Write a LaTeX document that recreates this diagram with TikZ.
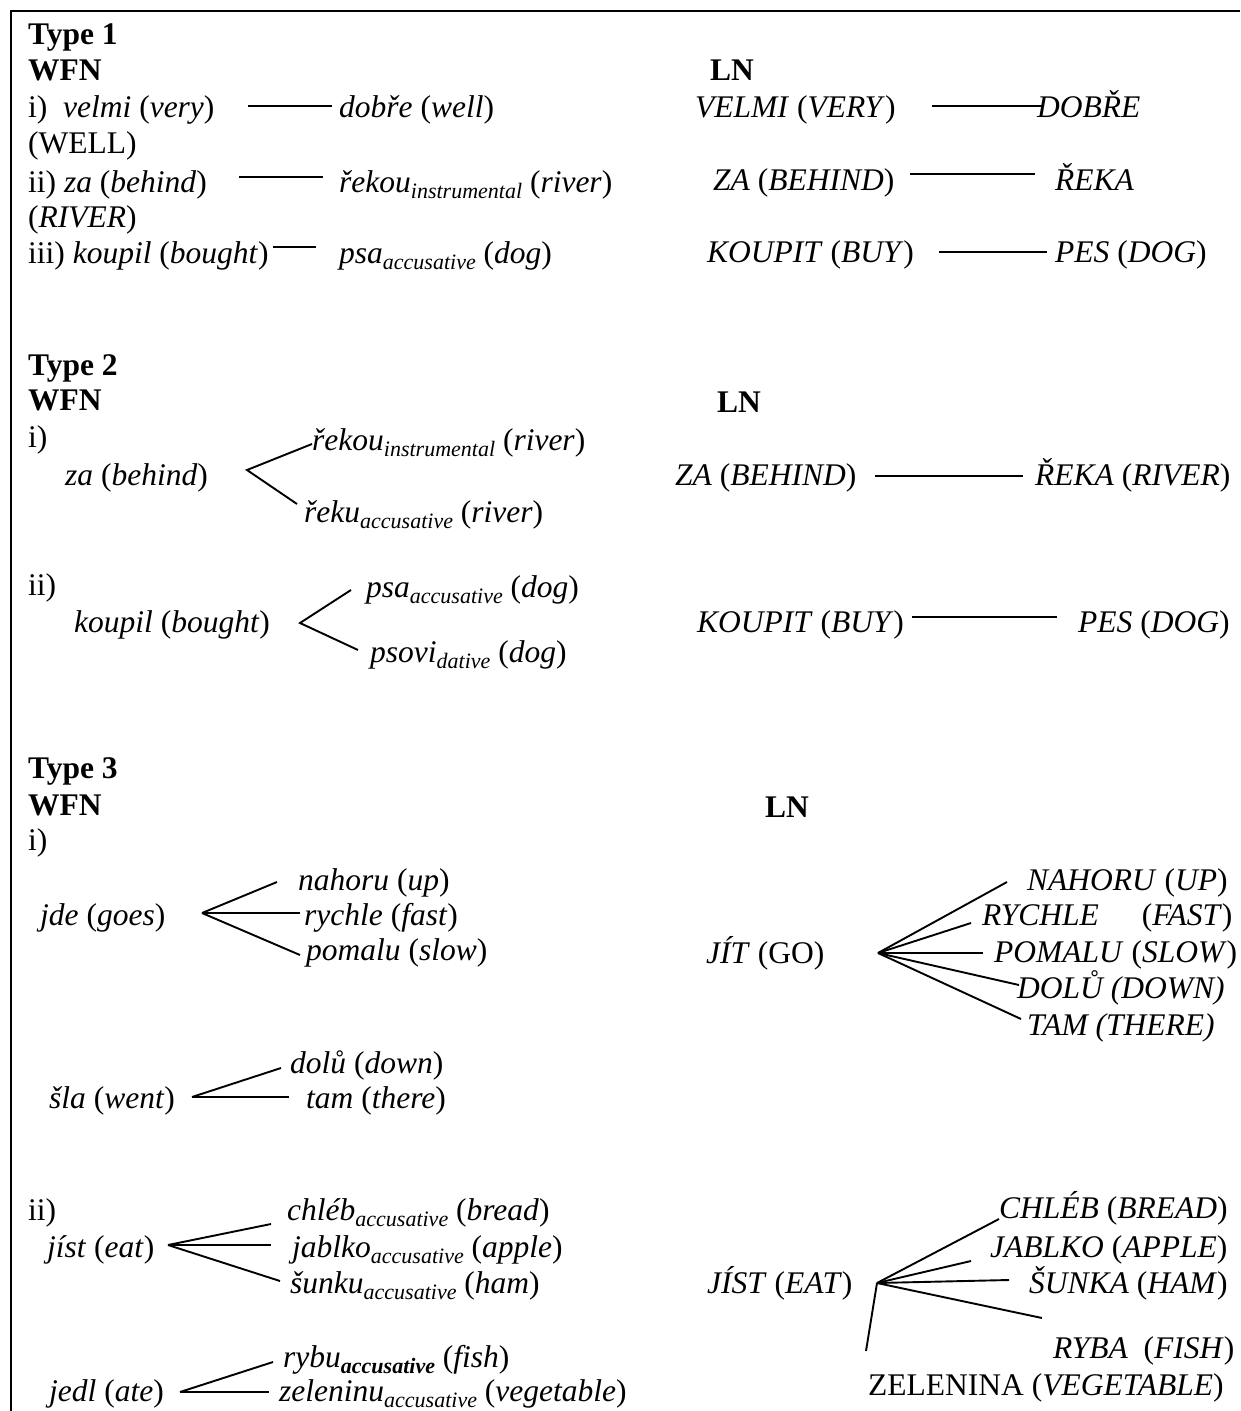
\documentclass[tikz,border=0pt]{standalone}
\usepackage{fontspec}
\setmainfont{Liberation Serif}
\usetikzlibrary{positioning}
\newcommand{\sbs}[1]{\raisebox{-0.22em}{\fontsize{22}{22}\selectfont\itshape #1}}

\begin{document}
\begin{tikzpicture}[x=1pt, y=-1pt,
    txt/.style={anchor=base west, inner sep=0pt, font=\fontsize{31.5}{36}\selectfont},
    hd/.style={txt, font=\fontsize{31.5}{36}\selectfont\bfseries},
    link/.style={line width=1.9pt},
    frame/.style={line width=2.6pt}]
        \useasboundingbox (0,0) rectangle (1240,1411);
        \draw[frame] (11,1411) -- (11,11) -- (1240,11);
        % Type 1
        \node[hd] (t1) at (28,44) {Type 1};
        \node[hd] (wfn1) at (28,80) {WFN};
        \node[hd] (ln1) at (710,80) {LN};
        \node[txt] (velmi) at (28,117) {i)\ \ \textit{velmi} (\textit{very})};
        \node[txt] (dobre) at (339,117) {\textit{dobře} (\textit{well})};
        \node[txt] (well) at (28,153) {(WELL)};
        \node[txt] (za1) at (28,192) {ii) \textit{za} (\textit{behind})};
        \node[txt] (rekou1) at (339,192) {\textit{řekou}\sbs{instrumental} (\textit{river})};
        \node[txt] (river1) at (28,227) {(\textit{RIVER})};
        \node[txt] (koupil1) at (28,263) {iii) \textit{koupil} (\textit{bought})};
        \node[txt] (psa1) at (339,263) {\textit{psa}\sbs{accusative} (\textit{dog})};
        \node[txt] (VELMI) at (695,117) {\textit{VELMI} (\textit{VERY})};
        \node[txt] (DOBRE) at (1037,117) {\textit{DOBŘE}};
        \node[txt] (ZA1) at (713,190) {\textit{ZA} (\textit{BEHIND})};
        \node[txt] (REKA1) at (1055,190) {\textit{ŘEKA}};
        \node[txt] (KOUPIT1) at (707,262) {\textit{KOUPIT} (\textit{BUY})};
        \node[txt] (PES1) at (1055,262) {\textit{PES} (\textit{DOG})};
        \coordinate (c1a) at (248,106); \coordinate (c1b) at (332,106);
        \coordinate (c2a) at (239,177); \coordinate (c2b) at (323,177);
        \coordinate (c3a) at (273,247); \coordinate (c3b) at (316,247);
        \coordinate (C1a) at (932,106); \coordinate (C1b) at (1043,106);
        \coordinate (C2a) at (910,174); \coordinate (C2b) at (1035,174);
        \coordinate (C3a) at (939,252); \coordinate (C3b) at (1047,252);
        \draw[link] (c1a) -- (c1b);
        \draw[link] (c2a) -- (c2b);
        \draw[link] (c3a) -- (c3b);
        \draw[link] (C1a) -- (C1b);
        \draw[link] (C2a) -- (C2b);
        \draw[link] (C3a) -- (C3b);
        % Type 2
        \node[hd] (t2) at (28,375) {Type 2};
        \node[hd] (wfn2) at (28,410) {WFN};
        \node[hd] (ln2) at (717,412) {LN};
        \node[txt] (i2) at (28,447) {i)};
        \node[txt] (za2) at (65,485) {\textit{za} (\textit{behind})};
        \node[txt] (rekou2) at (312,450) {\textit{řekou}\sbs{instrumental} (\textit{river})};
        \node[txt] (reku2) at (304,522) {\textit{řeku}\sbs{accusative} (\textit{river})};
        \node[txt] (ii2) at (28,595) {ii)};
        \node[txt] (koupil2) at (74,632) {\textit{koupil} (\textit{bought})};
        \node[txt] (psa2) at (366,597) {\textit{psa}\sbs{accusative} (\textit{dog})};
        \node[txt] (psovi2) at (370,662) {\textit{psovi}\sbs{dative} (\textit{dog})};
        \node[txt] (ZA2) at (675,485) {\textit{ZA} (\textit{BEHIND})};
        \node[txt] (REKA2) at (1035,485) {\textit{ŘEKA} (\textit{RIVER})};
        \node[txt] (KOUPIT2) at (697,632) {\textit{KOUPIT} (\textit{BUY})};
        \node[txt] (PES2) at (1078,632) {\textit{PES} (\textit{DOG})};
        \coordinate (v2a) at (247,470);
        \coordinate (v2a1) at (312,444); \coordinate (v2a2) at (297,504);
        \coordinate (v2b) at (300,623);
        \coordinate (v2b1) at (351,590); \coordinate (v2b2) at (358,650);
        \coordinate (C4a) at (875,476); \coordinate (C4b) at (1023,476);
        \coordinate (C5a) at (912,617); \coordinate (C5b) at (1057,617);
        \draw[link] (v2a1) -- (v2a) -- (v2a2);
        \draw[link] (v2b1) -- (v2b) -- (v2b2);
        \draw[link] (C4a) -- (C4b);
        \draw[link] (C5a) -- (C5b);
        % Type 3
        \node[hd] (t3) at (28,778) {Type 3};
        \node[hd] (wfn3) at (28,815) {WFN};
        \node[hd] (ln3) at (765,817) {LN};
        \node[txt] (i3) at (28,850) {i)};
        \node[txt] (jde) at (40,925) {\textit{jde} (\textit{goes})};
        \node[txt] (nahoru) at (298,890) {\textit{nahoru} (\textit{up})};
        \node[txt] (rychle) at (304,925) {\textit{rychle} (\textit{fast})};
        \node[txt] (pomalu) at (306,960) {\textit{pomalu} (\textit{slow})};
        \node[txt] (dolu) at (290,1073) {\textit{dolů} (\textit{down})};
        \node[txt] (sla) at (49,1108) {\textit{šla} (\textit{went})};
        \node[txt] (tam) at (306,1108) {\textit{tam} (\textit{there})};
        \node[txt] (JIT) at (706,963) {\textit{JÍT} (GO)};
        \node[txt] (NAHORU) at (1027,890) {\textit{NAHORU} (\textit{UP})};
        \node[txt] (RYCHLE) at (982,925) {\textit{RYCHLE}\hspace{43pt}(\textit{FAST})};
        \node[txt] (POMALU) at (994,962) {\textit{POMALU} (\textit{SLOW})};
        \node[txt] (DOLU) at (1017,998) {\textit{DOLŮ (DOWN)}};
        \node[txt] (TAM) at (1027,1035) {\textit{TAM (THERE)}};
        \coordinate (v3a) at (202,913);
        \coordinate (v3a1) at (277,882); \coordinate (v3a2) at (300,913); \coordinate (v3a3) at (300,955);
        \coordinate (v3b) at (192,1097);
        \coordinate (v3b1) at (281,1068); \coordinate (v3b2) at (289,1097);
        \coordinate (V3a) at (878,953);
        \coordinate (V3a1) at (1007,882); \coordinate (V3a2) at (971,923); \coordinate (V3a3) at (983,953);
        \coordinate (V3a4) at (1019,985); \coordinate (V3a5) at (1021,1019);
        \foreach \e in {v3a1,v3a2,v3a3} \draw[link] (v3a) -- (\e);
        \foreach \e in {v3b1,v3b2} \draw[link] (v3b) -- (\e);
        \foreach \e in {V3a1,V3a2,V3a3,V3a4,V3a5} \draw[link] (V3a) -- (\e);
        % Type 3 ii)
        \node[txt] (ii3) at (28,1220) {ii)};
        \node[txt] (jist) at (47,1257) {\textit{jíst} (\textit{eat})};
        \node[txt] (chleb) at (287,1220) {\textit{chléb}\sbs{accusative} (\textit{bread})};
        \node[txt] (jablko) at (292,1257) {\textit{jablko}\sbs{accusative} (\textit{apple})};
        \node[txt] (sunku) at (290,1293) {\textit{šunku}\sbs{accusative} (\textit{ham})};
        \node[txt] (rybu) at (283,1367) {\textit{rybu}\sbs{\bfseries accusative} (\textit{fish})};
        \node[txt] (jedl) at (49,1401) {\textit{jedl} (\textit{ate})};
        \node[txt] (zeleninu) at (279,1401) {\textit{zeleninu}\sbs{accusative} (\textit{vegetable})};
        \node[txt] (JIST) at (707,1293) {\textit{JÍST} (\textit{EAT})};
        \node[txt] (CHLEB) at (999,1218) {\textit{CHLÉB} (\textit{BREAD})};
        \node[txt] (JABLKO) at (990,1257) {\textit{JABLKO} (\textit{APPLE})};
        \node[txt] (SUNKA) at (1029,1293) {\textit{ŠUNKA} (\textit{HAM})};
        \node[txt] (RYBA) at (1053,1358) {\textit{RYBA}\ \ (\textit{FISH})};
        \node[txt] (ZELENINA) at (868,1395) {ZELENINA (\textit{VEGETABLE})};
        \coordinate (v4a) at (168,1245);
        \coordinate (v4a1) at (271,1224); \coordinate (v4a2) at (271,1245); \coordinate (v4a3) at (280,1281);
        \coordinate (v4b) at (180,1392);
        \coordinate (v4b1) at (273,1362); \coordinate (v4b2) at (269,1392);
        \coordinate (V4a) at (877,1283);
        \coordinate (V4a1) at (999,1219); \coordinate (V4a2) at (971,1261); \coordinate (V4a3) at (1009,1280);
        \coordinate (V4a4) at (1042,1318); \coordinate (V4a5) at (866,1351);
        \foreach \e in {v4a1,v4a2,v4a3} \draw[link] (v4a) -- (\e);
        \foreach \e in {v4b1,v4b2} \draw[link] (v4b) -- (\e);
        \foreach \e in {V4a1,V4a2,V4a3,V4a4,V4a5} \draw[link] (V4a) -- (\e);
      \end{tikzpicture}
\end{document}
